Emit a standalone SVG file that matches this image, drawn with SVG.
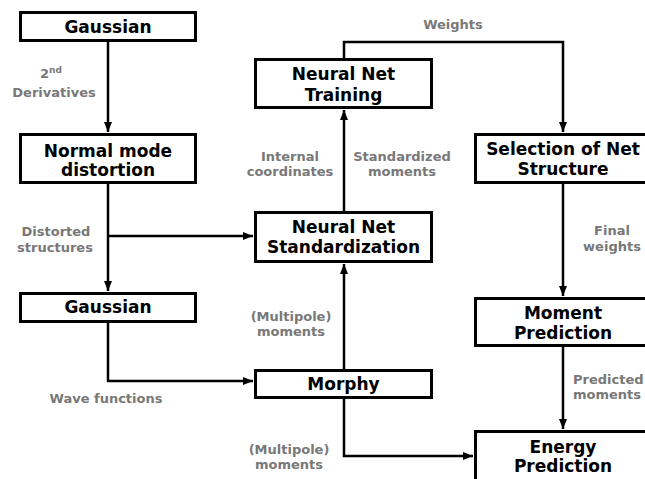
<svg xmlns="http://www.w3.org/2000/svg" width="645" height="479" viewBox="0 0 645 479">
<defs>
<style>
.box{fill:#fff;stroke:#000;stroke-width:3}
.t{font-family:"DejaVu Sans",Verdana,sans-serif;font-weight:bold;font-size:17px;fill:#000;text-anchor:middle}
.l{font-family:"DejaVu Sans",Verdana,sans-serif;font-weight:bold;font-size:13px;fill:#787878;text-anchor:middle}
.c{fill:none;stroke:#000;stroke-width:2.5}
</style>
<marker id="a" markerUnits="userSpaceOnUse" markerWidth="10" markerHeight="10" viewBox="0 0 10 10" refX="10" refY="5" orient="auto">
<path d="M0,1 L10,5 L0,9 Z" fill="#000"/>
</marker>
</defs>
<rect width="645" height="479" fill="#fff"/>
<g id="connectors">
<path class="c" d="M108,42 V132" marker-end="url(#a)"/>
<path class="c" d="M108,184 V291" marker-end="url(#a)"/>
<path class="c" d="M108,236 H253" marker-end="url(#a)"/>
<path class="c" d="M108,323 V381 H253" marker-end="url(#a)"/>
<path class="c" d="M344,369 V264" marker-end="url(#a)"/>
<path class="c" d="M344,211 V110" marker-end="url(#a)"/>
<path class="c" d="M344,58 V42 H563 V132" marker-end="url(#a)"/>
<path class="c" d="M563,184 V296" marker-end="url(#a)"/>
<path class="c" d="M563,347 V429" marker-end="url(#a)"/>
<path class="c" d="M344,399 V456 H473" marker-end="url(#a)"/>
</g>
<g id="labels">
<text class="l" x="51" y="78">2<tspan font-size="9" dy="-5">nd</tspan></text>
<text class="l" x="54" y="97">Derivatives</text>
<text class="l" x="56" y="236">Distorted</text>
<text class="l" x="55" y="252">structures</text>
<text class="l" x="106" y="403">Wave functions</text>
<text class="l" x="290" y="161">Internal</text>
<text class="l" x="290" y="176">coordinates</text>
<text class="l" x="402" y="161">Standardized</text>
<text class="l" x="402" y="176">moments</text>
<text class="l" x="453" y="29">Weights</text>
<text class="l" x="612" y="235">Final</text>
<text class="l" x="612" y="251">weights</text>
<text class="l" x="291" y="321">(Multipole)</text>
<text class="l" x="291" y="336">moments</text>
<text class="l" x="289" y="454">(Multipole)</text>
<text class="l" x="289" y="469">moments</text>
<text class="l" x="573" y="384" style="text-anchor:start">Predicted</text>
<text class="l" x="573" y="399" style="text-anchor:start">moments</text>
</g>
<g id="gaussian1">
<rect class="box" x="20.5" y="12.5" width="175" height="28"/>
<text class="t" x="108" y="33">Gaussian</text>
</g>
<g id="normal-mode">
<rect class="box" x="20.5" y="134.5" width="175" height="48"/>
<text class="t" x="108" y="157">Normal mode</text>
<text class="t" x="108" y="176">distortion</text>
</g>
<g id="gaussian2">
<rect class="box" x="20.5" y="293.5" width="175" height="28"/>
<text class="t" x="108" y="313">Gaussian</text>
</g>
<g id="nn-training">
<rect class="box" x="255.5" y="59.5" width="176" height="48"/>
<text class="t" x="343.5" y="80">Neural Net</text>
<text class="t" x="343.5" y="101">Training</text>
</g>
<g id="nn-standardization">
<rect class="box" x="255.5" y="212.5" width="176" height="49"/>
<text class="t" x="343.5" y="233">Neural Net</text>
<text class="t" x="343.5" y="253">Standardization</text>
</g>
<g id="morphy">
<rect class="box" x="255.5" y="370.5" width="176" height="27"/>
<text class="t" x="343.5" y="390">Morphy</text>
</g>
<g id="selection">
<rect class="box" x="475.5" y="134.5" width="180" height="48"/>
<text class="t" x="563" y="155">Selection of Net</text>
<text class="t" x="563" y="175">Structure</text>
</g>
<g id="moment-prediction">
<rect class="box" x="475.5" y="298.5" width="180" height="47"/>
<text class="t" x="563" y="319">Moment</text>
<text class="t" x="563" y="339">Prediction</text>
</g>
<g id="energy-prediction">
<rect class="box" x="475.5" y="431.5" width="180" height="60"/>
<text class="t" x="563" y="453">Energy</text>
<text class="t" x="563" y="472">Prediction</text>
</g>
</svg>
